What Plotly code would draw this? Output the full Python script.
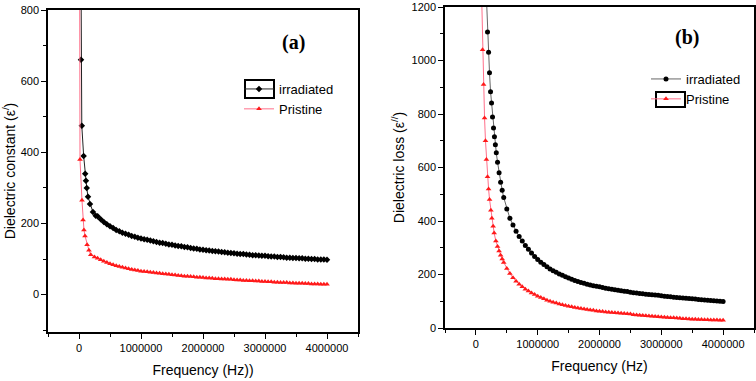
import plotly.graph_objects as go

# ---- panel (a): dielectric constant ----
freq_a_irr_head = [15000, 32000, 45000, 75000, 100000, 112000, 125000, 145000, 177000, 225000, 270000]
eps_a_irr_head = [1500, 660, 475, 390, 340, 320, 300, 275, 255, 232, 222]
freq_a_pri_head = [5000, 16000, 48000, 65000, 80000, 97000, 130000, 160000, 190000, 250000]
eps_a_pri_head = [1500, 380, 265, 210, 182, 165, 140, 125, 112, 106]

# measurement grid 300 kHz .. 4 MHz, 50 kHz steps
freq_a_tail = list(range(300000, 4000001, 50000))
eps_a_irr_tail = [220, 212, 204, 198, 192, 187, 182, 178, 174, 171, 168, 165, 163, 160, 158,
                  156, 154, 152, 150, 148, 146, 145, 143, 141, 140,
                  138, 137, 136, 134, 133, 131, 130, 129, 127, 126,
                  125, 124, 123, 122, 121, 120, 119, 118, 117, 116,
                  115, 114, 114, 113, 112, 111, 111, 110, 109, 109,
                  108, 107, 107, 106, 106, 105, 104, 104, 103, 103,
                  102, 102, 101, 101, 100, 100, 99, 99, 99, 98]
eps_a_pri_tail = [102, 98, 94, 90, 87, 84, 81, 79, 77, 75, 73, 71, 69, 68, 66,
                  65, 64, 63, 62, 61, 60, 59, 58, 57, 56,
                  55, 54, 53, 52, 52, 51, 50, 49, 49, 48,
                  47, 47, 46, 45, 45, 44, 44, 43, 43, 42,
                  41, 41, 40, 40, 39, 39, 38, 38, 37, 37,
                  36, 36, 35, 35, 34, 34, 34, 33, 33, 32,
                  32, 32, 31, 31, 30, 30, 30, 29, 29, 29]

# ---- panel (b): dielectric loss ----
freq_b_irr_head = [150000, 188000, 205000, 220000, 237000, 253000, 269000, 285000, 300000, 315000,
                   330000, 350000, 375000, 400000, 425000, 450000, 500000]
loss_b_irr_head = [1350, 1107, 1031, 954, 883, 841, 789, 748, 715, 685,
                   655, 620, 580, 545, 515, 488, 445]
freq_b_pri_head = [85000, 108000, 124000, 140000, 155000, 170000, 188000, 205000, 221000, 242000,
                   258000, 279000, 295000, 323000, 350000, 375000, 400000, 425000, 450000, 500000]
loss_b_pri_head = [1320, 1040, 910, 785, 700, 630, 565, 520, 480, 440,
                   410, 380, 355, 325, 305, 288, 272, 258, 245, 222]

# measurement grid 550 kHz .. 4 MHz, 50 kHz steps
freq_b_tail = list(range(550000, 4000001, 50000))
loss_b_irr_tail = [410, 385, 362, 342, 325, 308, 294, 280, 267, 256,
                   246, 237, 229, 221, 214, 208, 202, 197, 192, 187,
                   182, 178, 174, 170, 167, 164, 161, 158, 156, 154,
                   151, 149, 147, 145, 143, 141, 139, 137, 136, 134,
                   132, 131, 129, 128, 126, 125, 124, 123, 122, 121,
                   119, 118, 117, 115, 114, 113, 112, 111, 110, 109,
                   108, 107, 106, 105, 104, 103, 102, 101, 100, 99]
loss_b_pri_tail = [204, 188, 175, 164, 154, 145, 138, 131, 125, 119,
                   114, 109, 104, 100, 96, 93, 90, 87, 84, 81,
                   79, 77, 75, 73, 71, 69, 67, 66, 64, 63,
                   62, 60, 59, 58, 57, 56, 55, 54, 53, 52,
                   50, 49, 48, 47, 46, 45, 44, 43, 42, 41,
                   40, 39, 38, 38, 37, 36, 35, 35, 34, 33,
                   33, 32, 32, 31, 31, 30, 30, 30, 29, 29]

BLACK = "#000000"
RED = "#ff1a1a"
PINK = "#ff6f8a"
FONT = "Liberation Sans"

fig = go.Figure()

fig.add_trace(go.Scatter(
    x=freq_a_irr_head + freq_a_tail, y=eps_a_irr_head + eps_a_irr_tail,
    mode="lines+markers", name="irradiated", xaxis="x", yaxis="y", legend="legend",
    line=dict(color="#222222", width=1),
    marker=dict(symbol="diamond", size=5, color=BLACK)))
fig.add_trace(go.Scatter(
    x=freq_a_pri_head + freq_a_tail, y=eps_a_pri_head + eps_a_pri_tail,
    mode="lines+markers", name="Pristine", xaxis="x", yaxis="y", legend="legend",
    line=dict(color=PINK, width=1),
    marker=dict(symbol="triangle-up", size=5, color=RED)))

fig.add_trace(go.Scatter(
    x=freq_b_irr_head + freq_b_tail, y=loss_b_irr_head + loss_b_irr_tail,
    mode="lines+markers", name="irradiated", xaxis="x2", yaxis="y2", legend="legend2",
    line=dict(color="#666666", width=1),
    marker=dict(symbol="circle", size=5, color=BLACK)))
fig.add_trace(go.Scatter(
    x=freq_b_pri_head + freq_b_tail, y=loss_b_pri_head + loss_b_pri_tail,
    mode="lines+markers", name="Pristine", xaxis="x2", yaxis="y2", legend="legend2",
    line=dict(color=PINK, width=1),
    marker=dict(symbol="triangle-up", size=5, color=RED)))

W, H = 756, 381

def ax(**kw):
    base = dict(showline=True, linecolor=BLACK, linewidth=1.5, mirror=True,
                ticks="outside", ticklen=5, tickwidth=1, tickcolor=BLACK,
                showgrid=False, zeroline=False, automargin=False,
                tickfont=dict(family=FONT, size=11, color=BLACK),
                title_font=dict(family=FONT, size=14, color=BLACK))
    base.update(kw)
    return base

xa_common = dict(range=[-500000, 4500000], dtick=1000000, tickformat="d",
                 minor=dict(dtick=500000, ticks="outside", ticklen=3, tickcolor=BLACK))

fig.update_layout(
    width=W, height=H,
    margin=dict(l=0, r=0, t=0, b=0),
    paper_bgcolor="white", plot_bgcolor="white",
    font=dict(family=FONT, color=BLACK),
    xaxis=ax(domain=[48 / W, 358 / W], anchor="y", title=dict(text="Frequency (Hz))", standoff=12),
             **xa_common),
    yaxis=ax(domain=[1 - 332 / H, 1 - 10 / H], anchor="x", range=[-105, 800], dtick=200,
             minor=dict(dtick=100, ticks="outside", ticklen=3, tickcolor=BLACK),
             title=dict(text="Dielectric constant (ε<sup>/</sup>)", standoff=4)),
    xaxis2=ax(domain=[445 / W, 754 / W], anchor="y2", title=dict(text="Frequency (Hz)", standoff=12),
              **xa_common),
    yaxis2=ax(domain=[1 - 328 / H, 1 - 7 / H], anchor="x2", range=[0, 1200], dtick=200,
              minor=dict(dtick=100, ticks="outside", ticklen=3, tickcolor=BLACK),
              title=dict(text="Dielectric loss (ε<sup>//</sup>)", standoff=4)),
    legend=dict(x=239 / W, y=1 - 74 / H, xanchor="left", yanchor="top",
                bgcolor="rgba(0,0,0,0)", itemwidth=30, tracegroupgap=0,
                font=dict(family=FONT, size=13, color=BLACK)),
    legend2=dict(x=646 / W, y=1 - 64 / H, xanchor="left", yanchor="top",
                 bgcolor="rgba(0,0,0,0)", itemwidth=30, tracegroupgap=0,
                 font=dict(family=FONT, size=13, color=BLACK)),
    showlegend=True,
)

fig.add_annotation(text="<b>(a)</b>", x=293 / W, y=1 - 42 / H, xref="paper", yref="paper",
                   xanchor="center", yanchor="middle", showarrow=False,
                   font=dict(family="Liberation Serif", size=20, color=BLACK))
fig.add_annotation(text="<b>(b)</b>", x=687 / W, y=1 - 37 / H, xref="paper", yref="paper",
                   xanchor="center", yanchor="middle", showarrow=False,
                   font=dict(family="Liberation Serif", size=20, color=BLACK))

# selection boxes around legend symbols (as in the original figure)
fig.add_shape(type="rect", xref="paper", yref="paper",
              x0=245 / W, x1=274 / W, y0=1 - 98 / H, y1=1 - 80 / H,
              line=dict(color=BLACK, width=2))
fig.add_shape(type="rect", xref="paper", yref="paper",
              x0=656 / W, x1=685 / W, y0=1 - 107 / H, y1=1 - 92 / H,
              line=dict(color=BLACK, width=2))

# drop the browser's default 8px body margin so the figure sits at the page origin
fig.write_html("out.html", config={"displayModeBar": False},
               post_script="document.body.style.margin='0';")
